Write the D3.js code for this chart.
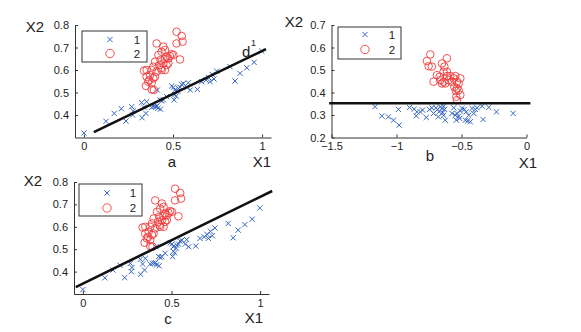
<!DOCTYPE html>
<html>
<head>
<meta charset="utf-8">
<script src="https://cdn.jsdelivr.net/npm/d3@7"></script>
<style>
  body { margin: 0; background: #fff; }
  text { font-family: "Liberation Sans", Arial, sans-serif; fill: #222; }
</style>
</head>
<body>
<div id="chart"></div>
<script>
// shared scatter for panels a and c
var blueX1 = [0, 0.124, 0.17, 0.21, 0.236, 0.268, 0.277, 0.273, 0.324, 0.326, 0.337, 0.348, 0.352, 0.38, 0.393, 0.404, 0.412, 0.416, 0.427, 0.436, 0.446, 0.464, 0.41, 0.43, 0.493, 0.502, 0.51, 0.506, 0.51, 0.518, 0.527, 0.53, 0.54, 0.548, 0.558, 0.578, 0.586, 0.597, 0.637, 0.661, 0.685, 0.70, 0.708, 0.72, 0.73, 0.745, 0.82, 0.848, 0.876, 0.914, 0.955, 0.998];
var blueX2 = [0.32, 0.372, 0.407, 0.428, 0.373, 0.437, 0.418, 0.40, 0.455, 0.388, 0.434, 0.407, 0.459, 0.434, 0.437, 0.437, 0.511, 0.43, 0.467, 0.463, 0.467, 0.482, 0.44, 0.426, 0.529, 0.523, 0.511, 0.467, 0.49, 0.484, 0.505, 0.518, 0.523, 0.536, 0.54, 0.523, 0.543, 0.511, 0.514, 0.548, 0.555, 0.566, 0.548, 0.58, 0.56, 0.595, 0.615, 0.551, 0.585, 0.61, 0.634, 0.684];
var redX1 = [0.408, 0.446, 0.455, 0.436, 0.52, 0.549, 0.554, 0.52, 0.539, 0.493, 0.483, 0.474, 0.455, 0.502, 0.418, 0.43, 0.423, 0.446, 0.455, 0.464, 0.399, 0.39, 0.38, 0.352, 0.337, 0.371, 0.352, 0.367, 0.39, 0.38, 0.361, 0.399, 0.348, 0.38, 0.393, 0.408, 0.433, 0.464, 0.436, 0.474];
var redX2 = [0.718, 0.704, 0.689, 0.681, 0.77, 0.751, 0.726, 0.718, 0.647, 0.67, 0.662, 0.652, 0.648, 0.667, 0.667, 0.644, 0.622, 0.629, 0.6, 0.622, 0.637, 0.615, 0.6, 0.6, 0.597, 0.578, 0.57, 0.555, 0.563, 0.541, 0.548, 0.57, 0.529, 0.514, 0.511, 0.593, 0.608, 0.659, 0.6, 0.63];

// panel b (transformed data)
var bBlueX1 = [-1.165, -1.113, -1.062, -1.023, -0.985, -0.98, -0.9, -0.864, -0.843, -0.848, -0.817, -0.80, -0.771, -0.746, -0.728, -0.715, -0.697, -0.684, -0.671, -0.663, -0.65, -0.645, -0.638, -0.638, -0.63, -0.625, -0.573, -0.56, -0.548, -0.535, -0.54, -0.522, -0.514, -0.509, -0.496, -0.478, -0.463, -0.452, -0.445, -0.432, -0.419, -0.406, -0.393, -0.380, -0.342, -0.334, -0.29, -0.231, -0.103, -0.470, -0.678];
var bBlueX2 = [0.337, 0.296, 0.292, 0.277, 0.325, 0.255, 0.334, 0.326, 0.314, 0.296, 0.314, 0.322, 0.289, 0.325, 0.332, 0.307, 0.332, 0.325, 0.314, 0.336, 0.329, 0.31, 0.339, 0.299, 0.325, 0.277, 0.307, 0.332, 0.299, 0.307, 0.277, 0.295, 0.285, 0.318, 0.329, 0.325, 0.314, 0.274, 0.299, 0.27, 0.329, 0.307, 0.325, 0.332, 0.339, 0.28, 0.334, 0.314, 0.307, 0.277, 0.292];
var bRedX1 = [-0.74, -0.766, -0.753, -0.728, -0.612, -0.65, -0.632, -0.638, -0.612, -0.689, -0.668, -0.715, -0.663, -0.638, -0.599, -0.573, -0.56, -0.548, -0.535, -0.509, -0.522, -0.555, -0.535, -0.543, -0.522, -0.509, -0.540, -0.535, -0.625, -0.65, -0.612, -0.586];
var bRedX2 = [0.569, 0.54, 0.517, 0.515, 0.552, 0.529, 0.515, 0.492, 0.492, 0.477, 0.47, 0.448, 0.455, 0.448, 0.455, 0.448, 0.463, 0.473, 0.448, 0.463, 0.44, 0.425, 0.418, 0.407, 0.41, 0.389, 0.381, 0.366, 0.44, 0.44, 0.473, 0.473];

// separating lines (endpoints in data units)
var lineA = [[0.056, 0.324], [1.022, 0.693]];
var lineB = [[-1.518, 0.352], [0.03, 0.352]];
var lineC = [[-0.04, 0.331], [1.068, 0.76]];

var ticksAx = [0, 0.5, 1];
var ticksAy = [0.4, 0.5, 0.6, 0.7, 0.8];
var ticksBx = [-1.5, -1, -0.5, 0];
var ticksBy = [0.2, 0.3, 0.4, 0.5, 0.6, 0.7];
var legendLabels = ["1", "2"];

var blue = "#3565c4";
var red = "#f23c3c";

var width = 581, height = 332;
var svg = d3.select("#chart").append("svg")
    .attr("width", width)
    .attr("height", height);

function fmt(v) {
    return String(v).replace("-", "\u2212");
}

function panel(cfg) {
    var x = d3.scaleLinear().domain(cfg.xd).range(cfg.xr);
    var y = d3.scaleLinear().domain(cfg.yd).range(cfg.yr);
    var g = svg.append("g");

    // axes (box off)
    var xAxis = d3.axisBottom(x).tickValues(cfg.xt).tickSizeInner(-3).tickSizeOuter(0).tickPadding(5).tickFormat(fmt);
    var yAxis = d3.axisLeft(y).tickValues(cfg.yt).tickSizeInner(-3).tickSizeOuter(0).tickPadding(6).tickFormat(fmt);
    var gx = g.append("g").attr("transform", "translate(0," + cfg.yr[0] + ")").call(xAxis);
    var gy = g.append("g").attr("transform", "translate(" + cfg.xr[0] + ",0)").call(yAxis);
    [gx, gy].forEach(function (a) {
        a.selectAll("path").attr("stroke", "#333").attr("stroke-width", 1);
        a.selectAll("line").attr("stroke", "#333");
        a.selectAll("text").style("font-size", "11px").attr("fill", "#222");
    });

    // class 1: crosses
    var s = 2.6;
    var bl = g.append("g").attr("stroke", blue).attr("stroke-width", 1);
    cfg.bx.forEach(function (v, i) {
        var px = x(v), py = y(cfg.by[i]);
        bl.append("path").attr("d", "M" + (px - s) + "," + (py - s) + "L" + (px + s) + "," + (py + s) +
            "M" + (px - s) + "," + (py + s) + "L" + (px + s) + "," + (py - s));
    });

    // class 2: circles
    g.append("g").selectAll("circle")
        .data(cfg.rx)
        .enter()
        .append("circle")
        .attr("cx", function (d) { return x(d); })
        .attr("cy", function (d, i) { return y(cfg.ry[i]); })
        .attr("r", 3.8)
        .attr("fill", "none")
        .attr("stroke", red)
        .attr("stroke-width", 0.9);

    // fit line
    g.append("line")
        .attr("x1", x(cfg.line[0][0])).attr("y1", y(cfg.line[0][1]))
        .attr("x2", x(cfg.line[1][0])).attr("y2", y(cfg.line[1][1]))
        .attr("stroke", "#111").attr("stroke-width", 2.6);

    // legend
    var L = cfg.legend;
    g.append("rect").attr("x", L.x).attr("y", L.y).attr("width", L.w).attr("height", L.h)
        .attr("fill", "#fff").attr("stroke", "#333").attr("stroke-width", 1);
    legendLabels.forEach(function (lab, i) {
        var ly = L.y + L.r0 + i * L.dy;
        var mx = L.x + L.mx;
        if (i == 0) {
            var q = 2.6;
            g.append("path").attr("d", "M" + (mx - q) + "," + (ly - q) + "L" + (mx + q) + "," + (ly + q) +
                "M" + (mx - q) + "," + (ly + q) + "L" + (mx + q) + "," + (ly - q))
                .attr("stroke", blue).attr("stroke-width", 1);
        } else {
            g.append("circle").attr("cx", mx).attr("cy", ly).attr("r", 4.2)
                .attr("fill", "none").attr("stroke", red).attr("stroke-width", 0.9);
        }
        g.append("text").attr("x", L.x + L.tx).attr("y", ly + 4)
            .attr("text-anchor", "middle").style("font-size", "11.5px").text(lab);
    });

    // labels
    g.append("text").attr("x", cfg.x2[0]).attr("y", cfg.x2[1]).attr("text-anchor", "middle")
        .style("font-size", "15px").text("X2");
    g.append("text").attr("x", cfg.x1[0]).attr("y", cfg.x1[1]).attr("text-anchor", "middle")
        .style("font-size", "15px").text("X1");
    g.append("text").attr("x", cfg.tag[0]).attr("y", cfg.tag[1]).attr("text-anchor", "middle")
        .style("font-size", "15px").text(cfg.name);
    return { x: x, y: y, g: g };
}

var pa = panel({
    xd: [-0.05, 1.05], xr: [75, 271], yd: [0.3, 0.8], yr: [137.5, 25],
    xt: ticksAx, yt: ticksAy,
    bx: blueX1, by: blueX2, rx: redX1, ry: redX2, line: lineA,
    legend: { x: 82, y: 31, w: 65, h: 31, r0: 8.5, dy: 14, mx: 28, tx: 55 },
    x2: [35, 32], x1: [262, 167], tag: [172, 167], name: "a"
});
// d^1 annotation
pa.g.append("text").attr("x", 242).attr("y", 57).style("font-size", "15px").text("d");
pa.g.append("text").attr("x", 251).attr("y", 46).style("font-size", "9px").text("1");

panel({
    xd: [-1.5, 0], xr: [331.5, 526.5], yd: [0.2, 0.7], yr: [137.5, 25],
    xt: ticksBx, yt: ticksBy,
    bx: bBlueX1, by: bBlueX2, rx: bRedX1, ry: bRedX2, line: lineB,
    legend: { x: 338, y: 27, w: 63, h: 32, r0: 7.5, dy: 15, mx: 27, tx: 54 },
    x2: [294, 27], x1: [528, 168], tag: [430, 161], name: "b"
});

panel({
    xd: [-0.05, 1.05], xr: [74, 269], yd: [0.3, 0.8], yr: [294, 182],
    xt: ticksAx, yt: ticksAy,
    bx: blueX1, by: blueX2, rx: redX1, ry: redX2, line: lineC,
    legend: { x: 79, y: 184, w: 63, h: 32, r0: 9, dy: 15, mx: 28, tx: 54 },
    x2: [33, 186], x1: [254, 323], tag: [168, 324], name: "c"
});
</script>
</body>
</html>
